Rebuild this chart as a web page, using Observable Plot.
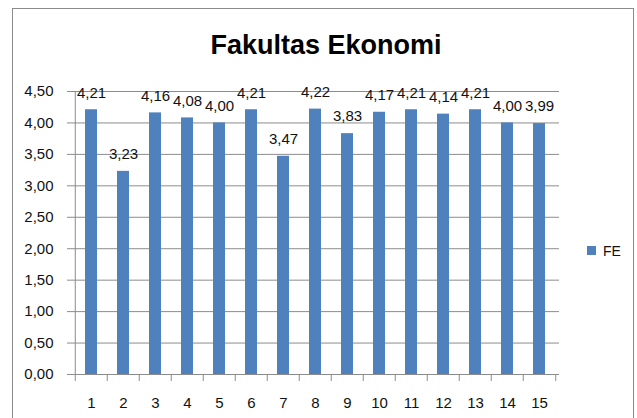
<!DOCTYPE html>
<html>
<head>
<meta charset="utf-8">
<script src="https://cdn.jsdelivr.net/npm/d3@7"></script>
<script src="https://cdn.jsdelivr.net/npm/@observablehq/plot@0.6"></script>
<style>
  html, body { margin: 0; padding: 0; background: #fff; }
  #wrap { position: relative; width: 637px; height: 418px; overflow: hidden; font-family: "Liberation Sans", Arial, sans-serif; }
  #border { position: absolute; left: 12px; top: 8px; width: 622px; height: 430px; border: 1.5px solid #8a8a8a; box-sizing: border-box; }
  #title { position: absolute; left: 12px; width: 628px; top: 29px; text-align: center; font-weight: bold; font-size: 27px; color: #000; line-height: 32px; }
  #chart { position: absolute; left: 0; top: 0; }
  #legend { position: absolute; left: 587px; top: 234px; }
</style>
</head>
<body>
<div id="wrap">
  <div id="border"></div>
  <div id="title">Fakultas Ekonomi</div>
  <div id="chart"></div>
  <div id="legend"></div>
</div>
<script>
const categories = ["1","2","3","4","5","6","7","8","9","10","11","12","13","14","15"];
const values = [4.21, 3.23, 4.16, 4.08, 4.00, 4.21, 3.47, 4.22, 3.83, 4.17, 4.21, 4.14, 4.21, 4.00, 3.99];
const yTicks = [0, 0.5, 1, 1.5, 2, 2.5, 3, 3.5, 4, 4.5];
const seriesName = "FE";

const data = categories.map((c, i) => ({cat: c, val: values[i]}));
const comma = d3.formatLocale({decimal: ",", thousands: ".", grouping: [3], currency: ["", ""]}).format(".2f");

const W = 637, H = 418;
const mL = 72, mR = 78, mT = 91, mB = 44;
const step = (W - mL - mR) / categories.length;
const font = "'Liberation Sans', Arial, sans-serif";
const gridColor = "#8c8c8c";
const blue = "#4f81bd";

const plot = Plot.plot({
  width: W, height: H,
  marginLeft: mL, marginRight: mR, marginTop: mT, marginBottom: mB,
  style: {fontFamily: font, fontSize: "15px", color: "#111", background: "transparent"},
  x: {domain: categories, paddingInner: 0.61, paddingOuter: 0.305, label: null},
  y: {domain: [0, 4.5], label: null},
  marks: [
    Plot.gridY(yTicks, {stroke: gridColor, strokeOpacity: 1}),
    Plot.axisY(yTicks, {tickFormat: comma, tickSize: 5, tickPadding: 14, stroke: gridColor, fill: "#111", label: null, fontSize: 15}),
    Plot.axisX({tickSize: 0, tickPadding: 23, fill: "#111", label: null, fontSize: 15}),
    Plot.barY(data, {x: "cat", y: "val", fill: blue}),
    Plot.ruleY([0], {stroke: gridColor}),
    Plot.ruleX([categories[0]], {y1: 0, y2: 4.5, dx: -step / 2, stroke: gridColor}),
    Plot.ruleX(categories, {y1: 0, y2: 0, insetBottom: -7, dx: -step / 2, stroke: gridColor}),
    Plot.ruleX([categories[categories.length - 1]], {y1: 0, y2: 0, insetBottom: -7, dx: step / 2, stroke: gridColor}),
    Plot.text(data, {x: "cat", y: "val", text: d => comma(d.val), dy: -17, fill: "#111", fontSize: 15})
  ]
});
document.getElementById("chart").appendChild(plot);

const legend = Plot.legend({
  color: {domain: [seriesName], range: [blue]},
  legend: "swatches",
  swatchSize: 9,
  style: {fontFamily: font, fontSize: "14px", color: "#111"}
});
document.getElementById("legend").appendChild(legend);
</script>
</body>
</html>
